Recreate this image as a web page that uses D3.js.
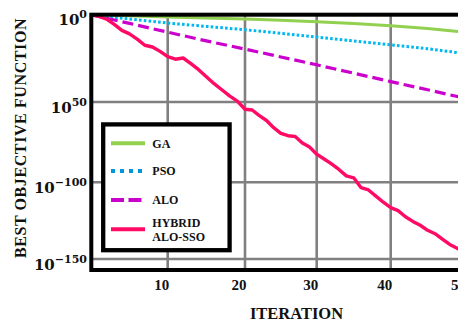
<!DOCTYPE html>
<html>
<head>
<meta charset="utf-8">
<script src="https://cdn.jsdelivr.net/npm/d3@7"></script>
<style>
body { margin: 0; background: #fff; }
text { font-family: "Liberation Serif", "Times New Roman", serif; font-weight: bold; fill: #111; }
</style>
</head>
<body>
<script>
// iterations where the smooth curves were read
var iterSparse = [0, 5, 10, 15, 20, 25, 30, 35, 40, 45, 50];
// values are log10(best objective)
var gaVals  = [0, -0.6, -1.3, -1.9, -2.5, -3.2, -4, -5.1, -6.3, -7.9, -10];
var psoVals = [0, -2.5, -4.8, -6.7, -8.6, -10.7, -12.8, -15, -17.2, -19.5, -22.2];
var aloVals = [0, -5, -10, -15, -19.7, -24.2, -28.7, -33.5, -38.3, -43, -47.8];
// hybrid: one value per iteration 0..50
var hybridVals = [0, -1, -2.5, -5.5, -9, -11, -14, -17.5, -18.5, -21,
    -24, -25.5, -24.8, -28, -31.5, -35.5, -39.5, -43, -46.5, -49.5,
    -54.5, -55, -58.5, -61.5, -66, -69.5, -71, -71.5, -75.5, -78,
    -82.5, -85.5, -88.5, -92, -96, -97.2, -103.5, -105, -109, -113,
    -116.5, -118.5, -122.5, -125.5, -128, -131.3, -133.5, -137, -140.5, -143,
    -146];
var xTicks = [10, 20, 30, 40, 50];
var yTicks = [0, -50, -100, -150];
var yTickExp = ["0", "50", "\u2212100", "\u2212150"];
var legendNames = [["GA"], ["PSO"], ["ALO"], ["HYBRID", "ALO-SSO"]];

var width = 458,
    height = 322;

var svg = d3.select("body")
    .append("svg")
    .attr("width", width)
    .attr("height", height);

// scales (piecewise so the grid sits where the picture has it)
var x = d3.scaleLinear()
    .domain([0, 10, 20, 30, 40, 50])
    .range([91.3, 167.7, 245, 316.7, 390.7, 464.5]);

var y = d3.scaleLinear()
    .domain([0, -50, -100, -150])
    .range([14.7, 102, 182.3, 259]);

var plotTop = 14.7, plotBottom = 270, plotLeft = 91.3, plotRight = 467;

svg.append("defs").append("clipPath")
    .attr("id", "clip")
    .append("rect")
    .attr("x", plotLeft)
    .attr("y", plotTop)
    .attr("width", plotRight - plotLeft)
    .attr("height", plotBottom - plotTop);

// grid
svg.selectAll(".vgrid")
    .data(xTicks)
    .enter()
    .append("line")
    .attr("x1", function(d){ return x(d); })
    .attr("x2", function(d){ return x(d); })
    .attr("y1", plotTop)
    .attr("y2", plotBottom)
    .attr("stroke", "#808080")
    .attr("stroke-width", 2.6);

svg.selectAll(".hgrid")
    .data(yTicks)
    .enter()
    .append("line")
    .attr("x1", plotLeft)
    .attr("x2", plotRight)
    .attr("y1", function(d){ return y(d); })
    .attr("y2", function(d){ return y(d); })
    .attr("stroke", "#808080")
    .attr("stroke-width", 2.6);

// series
var line = d3.line()
    .x(function(d){ return x(d[0]); })
    .y(function(d){ return y(d[1]); });

function pairs(iters, vals){
    return vals.map(function(v, i){ return [iters[i], v]; });
}

var series = [
    { data: pairs(iterSparse, gaVals), color: "#92d050", w: 3, dash: null },
    { data: pairs(iterSparse, psoVals), color: "#00b8f0", w: 3, dash: "2.6,2.2" },
    { data: pairs(iterSparse, aloVals), color: "#cc00cc", w: 3.2, dash: "11,5" },
    { data: pairs(d3.range(51), hybridVals), color: "#ff0a64", w: 3.4, dash: null }
];

var g = svg.append("g").attr("clip-path", "url(#clip)");
series.forEach(function(s){
    g.append("path")
        .datum(s.data)
        .attr("d", line)
        .attr("fill", "none")
        .attr("stroke", s.color)
        .attr("stroke-width", s.w)
        .attr("stroke-linejoin", "round")
        .attr("stroke-dasharray", s.dash);
});

// frame
svg.append("rect")
    .attr("x", plotLeft)
    .attr("y", plotTop)
    .attr("width", plotRight + 10 - plotLeft)
    .attr("height", plotBottom - plotTop)
    .attr("fill", "none")
    .attr("stroke", "#000")
    .attr("stroke-width", 4);

// x tick labels
svg.selectAll(".xlab")
    .data(xTicks)
    .enter()
    .append("text")
    .attr("x", function(d){ return x(d) - 6; })
    .attr("y", 290)
    .attr("text-anchor", "middle")
    .style("font-size", "15px")
    .text(function(d){ return d; });

// y tick labels 10^n
var ylab = svg.selectAll(".ylab")
    .data(yTicks)
    .enter()
    .append("text")
    .attr("x", 87)
    .attr("y", function(d){ return y(d) + 10.5; })
    .attr("text-anchor", "end")
    .style("font-family", "'DejaVu Serif', serif")
    .style("font-size", "15px");
ylab.append("tspan").text("10");
ylab.append("tspan")
    .attr("dy", -7)
    .style("font-size", "11px")
    .text(function(d, i){ return yTickExp[i]; });

// axis titles
svg.append("text")
    .attr("transform", "translate(26,138) rotate(-90)")
    .attr("text-anchor", "middle")
    .style("font-size", "16px")
    .style("letter-spacing", "0.6px")
    .text("BEST OBJECTIVE FUNCTION");

svg.append("text")
    .attr("x", 296.5)
    .attr("y", 319)
    .attr("text-anchor", "middle")
    .style("font-size", "16.5px")
    .text("ITERATION");

// legend
var legend = svg.append("g");
legend.append("rect")
    .attr("x", 103.2)
    .attr("y", 124.4)
    .attr("width", 126.4)
    .attr("height", 125.8)
    .attr("fill", "#fff")
    .attr("stroke", "#000")
    .attr("stroke-width", 4.3);

var legY = [143.3, 171, 200, 229.3];
var legDash = [null, "4,5", "13,4.5", null];
series.forEach(function(s, i){
    legend.append("line")
        .attr("x1", 111)
        .attr("x2", 145)
        .attr("y1", legY[i])
        .attr("y2", legY[i])
        .attr("stroke", i == 1 ? "#0098d8" : s.color)
        .attr("stroke-width", 4)
        .attr("stroke-dasharray", legDash[i]);
    var t = legend.append("text")
        .attr("x", 152.3)
        .attr("y", legY[i] + 4.2 - (legendNames[i].length - 1) * 7)
        .style("font-size", "12px");
    legendNames[i].forEach(function(name, k){
        t.append("tspan")
            .attr("x", 152.3)
            .attr("dy", k == 0 ? 0 : 14.3)
            .text(name);
    });
});
</script>
</body>
</html>
